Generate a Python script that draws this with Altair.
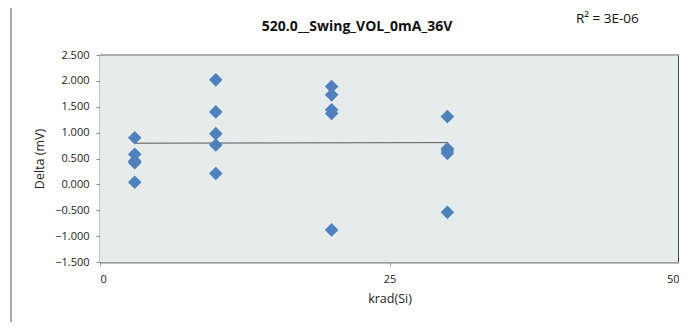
import altair as alt
import pandas as pd

krad = [3, 3, 3, 3, 3,
        10, 10, 10, 10, 10,
        20, 20, 20, 20, 20,
        30, 30, 30, 30, 30]
delta = [0.90, 0.58, 0.45, 0.42, 0.04,
         2.02, 1.40, 0.98, 0.76, 0.21,
         1.89, 1.73, 1.44, 1.37, -0.88,
         1.31, 0.69, 0.65, 0.60, -0.54]
y_ticks = [-1.5, -1.0, -0.5, 0.0, 0.5, 1.0, 1.5, 2.0, 2.5]
x_ticks = [0, 25, 50]
title_text = "520.0__Swing_VOL_0mA_36V"
r2_text = "R² = 3E-06"

df = pd.DataFrame({"krad": krad, "delta": delta})

W, H = 579, 207
FONT = "Open Sans"

x_scale = alt.Scale(domain=[0, 50], nice=False, zero=False)
y_scale = alt.Scale(domain=[-1.5, 2.5], nice=False, zero=False)

x_axis = alt.Axis(values=x_ticks, title="krad(Si)", grid=False,
                  domainColor="#9a9a9a", domainWidth=2,
                  tickColor="#9a9a9a", tickSize=4,
                  labelFont=FONT, labelFontSize=11, labelColor="#222",
                  labelPadding=7, labelOverlap=False,
                  titleFont=FONT, titleFontSize=12.5, titleFontWeight="normal",
                  titleColor="#222", titlePadding=8)
y_axis = alt.Axis(values=y_ticks, format=".3f", title="Delta (mV)",
                  grid=True, gridColor="#999999", gridWidth=1.5,
                  domainColor="#8a8a8a", domainWidth=2,
                  tickColor="#8a8a8a", tickSize=4,
                  labelFont=FONT, labelFontSize=11, labelColor="#222",
                  labelPadding=7, labelOverlap=False,
                  titleFont=FONT, titleFontSize=12.5, titleFontWeight="normal",
                  titleColor="#222", titlePadding=8)

x_enc = alt.X("krad:Q", scale=x_scale, axis=x_axis)
y_enc = alt.Y("delta:Q", scale=y_scale, axis=y_axis)

one = pd.DataFrame({"a": [0]})

bg = alt.Chart(one).mark_rect(color="#e6ecec").encode(
    x=alt.value(0), x2=alt.value(W), y=alt.value(0), y2=alt.value(H))

base = alt.Chart(df)

points = base.mark_point(shape="diamond", filled=True, size=185, opacity=1,
                         color="#4f81bd").encode(x=x_enc, y=y_enc)

trend = base.transform_regression("krad", "delta", method="linear", extent=[3, 30]).mark_line(
    color="#555555", strokeWidth=1).encode(x=x_enc, y=y_enc)

right_border = alt.Chart(one).mark_rule(color="#111", strokeWidth=1.5).encode(
    x=alt.value(W), y=alt.value(0), y2=alt.value(H))
top_border = alt.Chart(one).mark_rule(color="#9a9a9a", strokeWidth=1.5).encode(
    x=alt.value(0), x2=alt.value(W), y=alt.value(0))

frame_left = alt.Chart(one).mark_rule(color="#8c8c8c", strokeWidth=1.5, clip=False).encode(
    x=alt.value(-89), y=alt.value(-51), y2=alt.value(280))
frame_top = alt.Chart(one).mark_rule(color="#8c8c8c", strokeWidth=1.5, clip=False).encode(
    x=alt.value(-89), x2=alt.value(W + 10), y=alt.value(-51))

title = alt.Chart(pd.DataFrame({"t": [title_text]})).mark_text(
    font=FONT, fontSize=14, fontWeight="bold", color="#111", align="center",
    baseline="middle").encode(text="t:N", x=alt.value(257), y=alt.value(-28))
r2 = alt.Chart(pd.DataFrame({"t": [r2_text]})).mark_text(
    font=FONT, fontSize=13.5, color="#111", align="left",
    baseline="middle").encode(text="t:N", x=alt.value(476), y=alt.value(-36))

chart = alt.layer(bg, trend, points, right_border, top_border, frame_left, frame_top,
                  title, r2).properties(
    width=W, height=H,
    autosize=alt.AutoSizeParams(type="none"),
    padding={"left": 92, "top": 47, "right": 0, "bottom": 60},
).configure_view(stroke=None).configure(background="white")

chart.save("out.html", embed_options={"renderer": "svg", "actions": False})
